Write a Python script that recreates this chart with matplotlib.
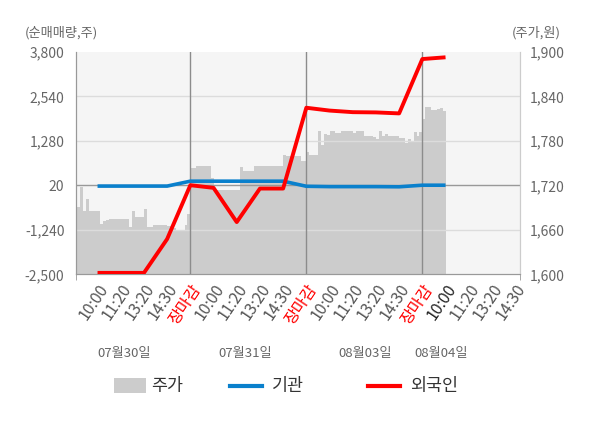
import matplotlib

matplotlib.use("Agg")
import matplotlib.pyplot as plt
import numpy as np
from matplotlib.lines import Line2D
from matplotlib.patches import Rectangle
from matplotlib.transforms import blended_transform_factory

plt.rcParams["font.family"] = ["Noto Sans CJK KR", "DejaVu Sans"]

# x tick labels (one per slot, 5 slots per trading day)
TIME_LABELS = [
    "10:00", "11:20", "13:20", "14:30", "장마감",
    "10:00", "11:20", "13:20", "14:30", "장마감",
    "10:00", "11:20", "13:20", "14:30", "장마감",
    "10:00", "11:20", "13:20", "14:30",
]
DATES = ["07월30일", "07월31일", "08월03일", "08월04일"]
DATE_POS = [2.15, 7.35, 12.55, 15.8]

# net buying (shares), one value per slot 1..16
FLOW_SLOTS = list(range(1, 17))
INSTITUTION = [0, 0, 0, 0, 139, 139, 139, 139, 139, -5, -15, -15, -15, -20, 25, 25]
FOREIGN = [-2460, -2460, -2460, -1500, 25, -50, -1020, -70, -70, 2220, 2140, 2095, 2088, 2060, 3600, 3650]

# price (won), 40 samples per trading day, last day partial
PRICE_D1 = [1695, 1691, 1718, 1685, 1702, 1686, 1686, 1686, 1686, 1668,
            1672, 1673, 1674, 1674, 1674, 1674, 1674, 1674, 1674, 1664,
            1686, 1678, 1677, 1677, 1688, 1664, 1664, 1666, 1667, 1667,
            1667, 1666, 1665, 1665, 1663, 1659, 1659, 1659, 1666, 1682]
PRICE_D2 = [1743, 1743, 1746, 1746, 1746, 1746, 1746, 1730, 1714, 1714,
            1714, 1714, 1714, 1714, 1714, 1714, 1714, 1745, 1739, 1739,
            1739, 1739, 1746, 1746, 1746, 1746, 1746, 1746, 1746, 1746,
            1746, 1746, 1761, 1759, 1759, 1759, 1759, 1759, 1753, 1753]
PRICE_D3 = [1765, 1761, 1761, 1761, 1793, 1774, 1790, 1788, 1793, 1793,
            1791, 1791, 1793, 1793, 1793, 1793, 1791, 1793, 1793, 1793,
            1787, 1787, 1787, 1785, 1783, 1794, 1786, 1789, 1786, 1786,
            1786, 1786, 1784, 1784, 1777, 1783, 1779, 1792, 1787, 1792]
PRICE_D4 = [1810, 1826, 1826, 1822, 1822, 1823, 1825, 1821]

LEFT_TICKS = [-2500, -1240, 20, 1280, 2540, 3800]
RIGHT_TICKS = [1600, 1660, 1720, 1780, 1840, 1900]

TEXT = "#666666"
RED = "#ff0000"
BLUE = "#0a80cc"
FILL = "#cccccc"

W, H = 600, 428


def fx(x):
    return x / W


def fy(y):
    return 1 - y / H


fig = plt.figure(figsize=(W / 100, H / 100), dpi=100)
fig.patch.set_facecolor("white")

ax = fig.add_axes([fx(75.5), fy(274.3), (520 - 75.5) / W, (274.3 - 52) / H])
ax.set_facecolor("#f5f5f5")
flow = ax.twinx()
flow.patch.set_visible(False)

# price area
price = np.array(PRICE_D1 + PRICE_D2 + PRICE_D3 + PRICE_D4, dtype=float)
px = np.arange(len(price) + 1) * 5 / 40
py = np.append(price, price[-1])
ax.fill_between(px, py, 1600, step="post", color=FILL, lw=0, zorder=1)

for v in RIGHT_TICKS[1:-1]:
    ax.axhline(v, color="#999999" if v == 1720 else "#dcdcdc", lw=1, zorder=2)
for v in [5, 10, 15]:
    ax.axvline(v, color="#8c8c8c", lw=1, zorder=2)

flow.plot(FLOW_SLOTS, INSTITUTION, color=BLUE, lw=2.6, zorder=3, solid_capstyle="butt")
flow.plot(FLOW_SLOTS, FOREIGN, color=RED, lw=2.8, zorder=4, solid_capstyle="butt")

ax.set_xlim(0.05, 19.21)
ax.set_ylim(1600, 1900)
flow.set_ylim(-2500, 3800)

ax.yaxis.set_ticks_position("right")
flow.yaxis.set_ticks_position("left")
ax.set_yticks(RIGHT_TICKS, [f"{v:,}" for v in RIGHT_TICKS])
flow.set_yticks(LEFT_TICKS, [f"{v:,}" for v in LEFT_TICKS])
ax.tick_params(axis="y", length=0, pad=7, labelsize=10, labelcolor=TEXT)
flow.tick_params(axis="y", length=0, pad=8, labelsize=10, labelcolor=TEXT)

ax.set_xticks(range(1, len(TIME_LABELS) + 1))
ax.set_xticklabels(TIME_LABELS, rotation=56, ha="right", va="top", rotation_mode="anchor")
ax.set_xticks([0.05, 5, 10, 15, 19.21], minor=True)
ax.tick_params(axis="x", which="major", length=0, pad=5, labelsize=11.5, labelcolor="#555555")
ax.tick_params(axis="x", which="minor", length=4, color="#999999")
for i, lab in enumerate(ax.get_xticklabels()):
    if TIME_LABELS[i] == "장마감":
        lab.set_color(RED)
    elif i == 15:
        lab.set_color("#222222")

for a in (ax, flow):
    a.spines["top"].set_visible(False)
    a.spines["left"].set_color("#999999")
    a.spines["bottom"].set_color("#999999")
    a.spines["right"].set_color("#cccccc")

date_tr = blended_transform_factory(ax.transData, fig.transFigure)
for d, pos in zip(DATES, DATE_POS):
    ax.text(pos, fy(353), d, transform=date_tr, ha="center", va="center",
            fontsize=9.5, color=TEXT, clip_on=False)

fig.text(fx(61), fy(33), "(순매매량,주)", ha="center", va="center", fontsize=9.5, color=TEXT)
fig.text(fx(536), fy(33), "(주가,원)", ha="center", va="center", fontsize=9.5, color=TEXT)

# legend
fig.patches.append(Rectangle((fx(114), fy(393)), 32 / W, 15 / H, transform=fig.transFigure,
                             facecolor=FILL, edgecolor="none"))
fig.text(fx(151), fy(386), "주가", ha="left", va="center", fontsize=12.5, color="#333333")
fig.lines.append(Line2D([fx(230), fx(262)], [fy(386), fy(386)], transform=fig.transFigure,
                        color=BLUE, lw=3))
fig.text(fx(272), fy(386), "기관", ha="left", va="center", fontsize=12.5, color="#333333")
fig.lines.append(Line2D([fx(368), fx(400)], [fy(386), fy(386)], transform=fig.transFigure,
                        color=RED, lw=3))
fig.text(fx(410), fy(386), "외국인", ha="left", va="center", fontsize=12.5, color="#333333")

fig.savefig("out.png", dpi=100)
